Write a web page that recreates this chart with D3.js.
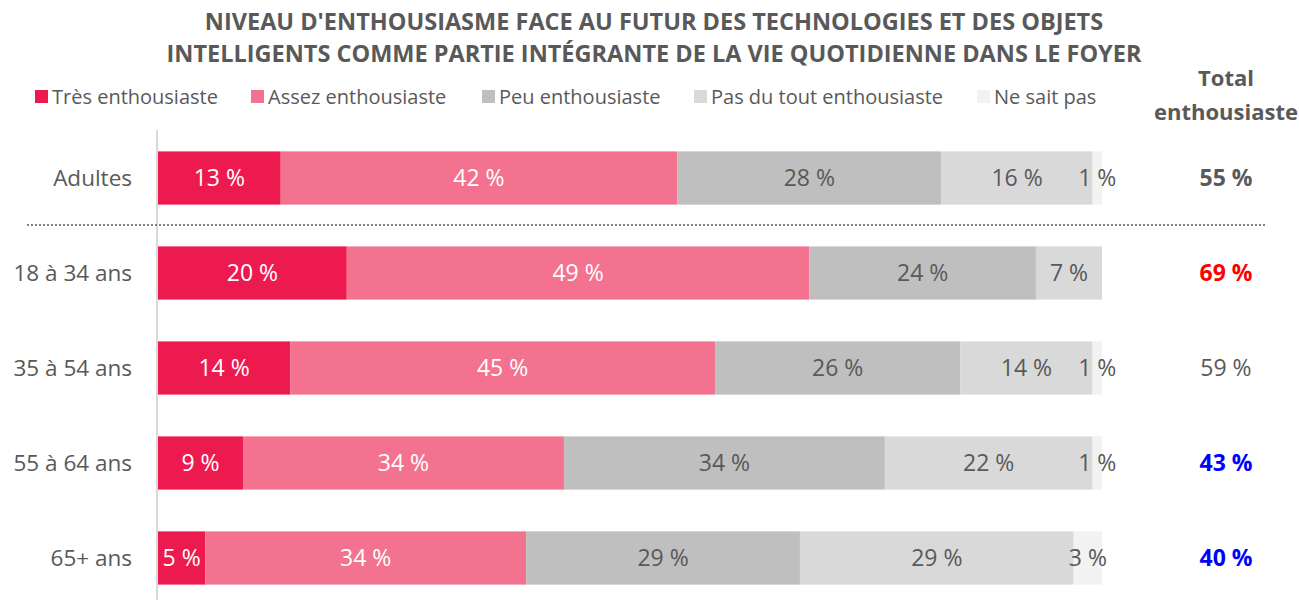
<!DOCTYPE html>
<html>
<head>
<meta charset="utf-8">
<script src="https://cdn.jsdelivr.net/npm/d3@7"></script>
<style>
  body { margin: 0; background: #fff; }
  svg { font-family: "Open Sans", "Noto Sans", sans-serif; }
</style>
</head>
<body>
<svg id="chart" width="1299" height="600"></svg>
<script>
const titleLines = [
  "NIVEAU D'ENTHOUSIASME FACE AU FUTUR DES TECHNOLOGIES ET DES OBJETS",
  "INTELLIGENTS COMME PARTIE INTÉGRANTE DE LA VIE QUOTIDIENNE DANS LE FOYER"
];
const categories = ['Adultes', '18 à 34 ans', '35 à 54 ans', '55 à 64 ans', '65+ ans'];
const seriesNames = ['Très enthousiaste', 'Assez enthousiaste', 'Peu enthousiaste', 'Pas du tout enthousiaste', 'Ne sait pas'];
const seriesColors = ['#ec1a4f', '#f3728f', '#bfbfbf', '#d9d9d9', '#f2f2f2'];
const labelColors = ['#ffffff', '#ffffff', '#595959', '#595959', '#595959'];

// une valeur par catégorie, dans l'ordre des catégories
const tres   = [13, 20, 14, 9, 5];
const assez  = [42, 49, 45, 34, 34];
const peu    = [28, 24, 26, 34, 29];
const pasDuTout = [16, 7, 14, 22, 29];
const nsp    = [1, 0, 1, 1, 3];

const totals = ['55 %', '69 %', '59 %', '43 %', '40 %'];
const totalColors = ['#595959', '#ff0000', '#595959', '#0000ff', '#0000ff'];
const totalBold = [true, true, false, true, true];

const series = [tres, assez, peu, pasDuTout, nsp];

const svg = d3.select('#chart');

const x = d3.scaleLinear([0, 100], [158, 1102]);
const y = d3.scaleBand(categories, [130.5, 605.5])
  .paddingInner(0.44)
  .paddingOuter(0.22);

// titre
svg.append('g')
  .selectAll('text')
  .data(titleLines)
  .join('text')
    .attr('x', 654)
    .attr('y', (d, i) => 30 + i * 32)
    .attr('text-anchor', 'middle')
    .attr('font-size', 23.5)
    .attr('font-weight', 700)
    .attr('fill', '#595959')
    .text(d => d);

// légende
const legendX = [35, 251, 482, 694, 977];
const legend = svg.append('g')
  .selectAll('g')
  .data(seriesNames)
  .join('g')
    .attr('transform', (d, i) => `translate(${legendX[i]}, 97)`);
legend.append('rect')
  .attr('y', -7)
  .attr('width', 13)
  .attr('height', 13)
  .attr('fill', (d, i) => seriesColors[i]);
legend.append('text')
  .attr('x', 17)
  .attr('dy', '0.35em')
  .attr('font-size', 20)
  .attr('fill', '#595959')
  .text(d => d);

// en-tête total
svg.append('text')
  .attr('text-anchor', 'middle')
  .attr('font-size', 22)
  .attr('font-weight', 700)
  .attr('fill', '#595959')
  .selectAll('tspan')
  .data(['Total', 'enthousiaste'])
  .join('tspan')
    .attr('x', 1226)
    .attr('y', (d, i) => 86 + i * 34)
    .text(d => d);

// axe vertical
svg.append('line')
  .attr('x1', 157).attr('x2', 157)
  .attr('y1', 130).attr('y2', 600)
  .attr('stroke', '#d9d9d9')
  .attr('stroke-width', 2);

// séparateur pointillé
svg.append('line')
  .attr('x1', 27).attr('x2', 1267)
  .attr('y1', 225).attr('y2', 225)
  .attr('stroke', '#7f7f7f')
  .attr('stroke-width', 2)
  .attr('stroke-dasharray', '2,2');

// segments empilés
const rows = categories.map((c, ci) => {
  let acc = 0;
  return series.map((s, si) => {
    const seg = { cat: c, si, v: s[ci], x0: acc, x1: acc + s[ci] };
    acc += s[ci];
    return seg;
  }).filter(d => d.v > 0);
});

const bars = svg.append('g');
rows.forEach(segs => {
  const g = bars.append('g');
  g.selectAll('rect')
    .data(segs)
    .join('rect')
      .attr('x', d => x(d.x0))
      .attr('width', d => x(d.x1) - x(d.x0))
      .attr('y', d => y(d.cat))
      .attr('height', y.bandwidth())
      .attr('fill', d => seriesColors[d.si]);
  g.selectAll('text')
    .data(segs)
    .join('text')
      .attr('x', d => (x(d.x0) + x(d.x1)) / 2)
      .attr('y', d => y(d.cat) + y.bandwidth() / 2)
      .attr('dy', '0.36em')
      .attr('text-anchor', 'middle')
      .attr('font-size', 23)
      .attr('fill', d => labelColors[d.si])
      .text(d => `${d.v} %`);
});

// étiquettes des catégories
svg.append('g')
  .selectAll('text')
  .data(categories)
  .join('text')
    .attr('x', 132)
    .attr('y', d => y(d) + y.bandwidth() / 2)
    .attr('dy', '0.36em')
    .attr('text-anchor', 'end')
    .attr('font-size', 22.5)
    .attr('fill', '#595959')
    .text(d => d);

// colonne total
svg.append('g')
  .selectAll('text')
  .data(categories)
  .join('text')
    .attr('x', 1226)
    .attr('y', d => y(d) + y.bandwidth() / 2)
    .attr('dy', '0.36em')
    .attr('text-anchor', 'middle')
    .attr('font-size', 23)
    .attr('font-weight', (d, i) => totalBold[i] ? 700 : 400)
    .attr('fill', (d, i) => totalColors[i])
    .text((d, i) => totals[i]);
</script>
</body>
</html>
